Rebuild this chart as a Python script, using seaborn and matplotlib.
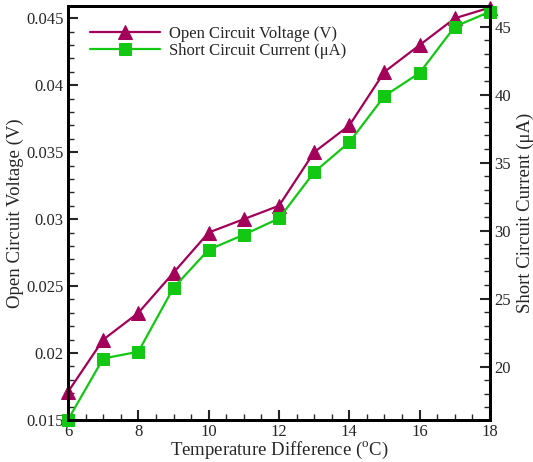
import matplotlib
matplotlib.use("Agg")
import matplotlib.pyplot as plt
import seaborn as sns
import pandas as pd
from matplotlib.ticker import MultipleLocator

temp_diff = [6, 7, 8, 9, 10, 11, 12, 13, 14, 15, 16, 17, 18]
voltage = [0.0171, 0.0210, 0.0230, 0.0260, 0.0290, 0.0300, 0.0310, 0.0350, 0.0370, 0.0410, 0.0430, 0.0450, 0.0458]
current = [16.1, 20.6, 21.1, 25.8, 28.6, 29.7, 30.9, 34.3, 36.5, 39.9, 41.6, 45.0, 46.1]

df = pd.DataFrame({"T": temp_diff, "V": voltage, "I": current})

sns.set_style("ticks")
plt.rcParams["font.family"] = ["Liberation Serif", "DejaVu Serif"]
plt.rcParams["mathtext.fontset"] = "custom"
plt.rcParams["mathtext.rm"] = "Liberation Serif"

c_v = "#A3005A"
c_i = "#12C812"

fig = plt.figure(figsize=(5.33, 4.62), dpi=100)
ax = fig.add_axes([0.1276, 0.0909, 0.7917, 0.8968])
ax2 = ax.twinx()

sns.lineplot(data=df, x="T", y="V", ax=ax, color=c_v, marker="^", markersize=10,
             markeredgecolor=c_v, linewidth=1.6, clip_on=False, label="Open Circuit Voltage (V)", legend=False)
sns.lineplot(data=df, x="T", y="I", ax=ax2, color=c_i, marker="s", markersize=8,
             markeredgecolor=c_i, linewidth=1.6, clip_on=False, label="Short Circuit Current (\u03bcA)", legend=False)

ax.set_xlim(6, 18)
ax.set_ylim(0.015, 0.04594)
ax2.set_ylim(16.08, 46.54)

ax.xaxis.set_major_locator(MultipleLocator(2))
ax.xaxis.set_minor_locator(MultipleLocator(0.5))
ax.yaxis.set_major_locator(MultipleLocator(0.005))
ax.yaxis.set_minor_locator(MultipleLocator(0.001))
ax2.yaxis.set_major_locator(MultipleLocator(5))
ax2.yaxis.set_minor_locator(MultipleLocator(1))

ax.set_yticks([0.015, 0.02, 0.025, 0.03, 0.035, 0.04, 0.045])
ax.set_yticklabels(["0.015", "0.02", "0.025", "0.03", "0.035", "0.04", "0.045"])

for a in (ax, ax2):
    a.tick_params(which="major", direction="in", length=7, width=1.5, labelsize=12, pad=3)
    a.tick_params(which="minor", direction="in", length=4, width=1.0)
    for s in a.spines.values():
        s.set_linewidth(2)
        s.set_color("black")
ax.tick_params(axis="y", right=False, which="both")
ax.tick_params(axis="x", top=False, which="both")
ax2.tick_params(axis="y", left=False, which="both")

ax.set_xlabel("Temperature Difference ($^{\\mathrm{o}}$C)", fontsize=13.5, labelpad=0)
ax.set_ylabel("Open Circuit Voltage (V)", fontsize=13.5, labelpad=2)
ax2.set_ylabel("Short Circuit Current (\u03bcA)", fontsize=13.5, labelpad=4)

h1, l1 = ax.get_legend_handles_labels()
h2, l2 = ax2.get_legend_handles_labels()
ax2.legend(h1 + h2, l1 + l2, loc="upper left", frameon=False, fontsize=12,
           handlelength=4.2, handletextpad=0.5, labelspacing=0.1,
           bbox_to_anchor=(0.025, 0.98), borderaxespad=0.3)

fig.savefig("out.png", dpi=100)
